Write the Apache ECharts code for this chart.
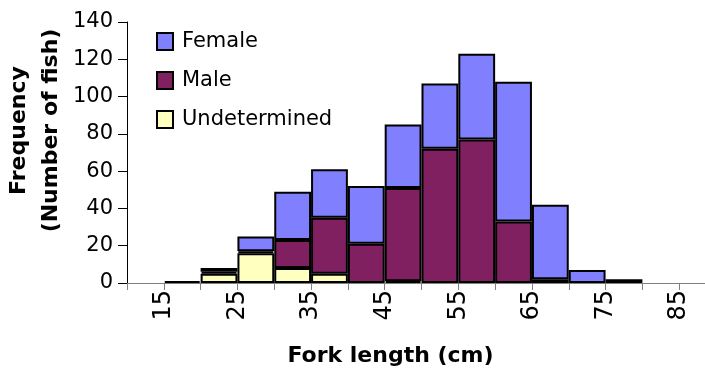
<!DOCTYPE html>
<html>
<head>
<meta charset="utf-8">
<script src="https://cdn.jsdelivr.net/npm/echarts@6/dist/echarts.min.js"></script>
<style>
  html, body { margin: 0; padding: 0; background: #fff; }
  #chart { width: 705px; height: 373px; }
</style>
</head>
<body>
<div id="chart"></div>
<script>
// bins of 5 cm, each labelled by its lower edge
const bins = ['10', '15', '20', '25', '30', '35', '40', '45', '50', '55', '60', '65', '70', '75', '80', '85'];
const undetermined = [null, null, 5, 16, 8, 5, null, 1, null, null, null, null, null, null, null, null];
const male = [null, null, 1, 1, 15, 30, 21, 50, 72, 77, 33, 2, null, null, null, null];
const female = [null, 1, 2, 8, 26, 26, 31, 34, 35, 46, 75, 40, 7, 2, null, null];
const xTickLabels = [15, 25, 35, 45, 55, 65, 75, 85];

const FONT = '"DejaVu Sans", Arial, sans-serif';
const chart = echarts.init(document.getElementById('chart'));

const barStyle = (color) => ({ color: color, borderColor: '#000', borderWidth: 2 });

chart.setOption({
  animation: false,
  backgroundColor: '#fff',
  textStyle: { fontFamily: FONT },
  grid: { left: 127, top: 22, bottom: 90, right: -11, containLabel: false, outerBoundsMode: 'none' },
  legend: {
    data: ['Female', 'Male', 'Undetermined'],
    orient: 'vertical',
    left: 151,
    top: 26,
    itemWidth: 16,
    itemHeight: 17,
    itemGap: 18,
    icon: 'rect',
    textStyle: { fontFamily: FONT, fontSize: 21, color: '#000', padding: [0, 0, 0, 4] }
  },
  xAxis: [{
    type: 'category',
    data: bins,
    boundaryGap: true,
    show: false
  }, {
    type: 'value',
    position: 'bottom',
    min: 10,
    max: 90,
    interval: 5,
    axisLine: { show: true, lineStyle: { color: '#808080', width: 1 } },
    axisTick: { show: true, length: 7, lineStyle: { color: '#808080' } },
    splitLine: { show: false },
    axisLabel: {
      rotate: 90,
      margin: 7,
      fontSize: 24,
      fontFamily: FONT,
      color: '#000',
      formatter: (v) => (xTickLabels.indexOf(v) >= 0 ? String(v) : '')
    },
    name: 'Fork length (cm)',
    nameLocation: 'middle',
    nameGap: 62,
    nameMoveOverlap: false,
    nameTextStyle: { fontFamily: FONT, fontSize: 22, fontWeight: 'bold', color: '#000', padding: [0, 62, 0, 0] }
  }],
  yAxis: {
    type: 'value',
    min: 0,
    max: 140,
    interval: 20,
    axisLine: { show: true, lineStyle: { color: '#000', width: 1 } },
    axisTick: { show: true, length: 9, lineStyle: { color: '#000' } },
    splitLine: { show: false },
    axisLabel: { fontSize: 21, fontFamily: FONT, color: '#000', margin: 14 },
    name: 'Frequency\n(Number of fish)',
    nameLocation: 'middle',
    nameGap: 60,
    nameMoveOverlap: false,
    nameRotate: 90,
    nameTextStyle: { fontFamily: FONT, fontSize: 22, fontWeight: 'bold', color: '#000', lineHeight: 32, padding: [0, 0, 0, 44] }
  },
  series: [{
    name: 'Undetermined',
    type: 'bar',
    stack: 'fish',
    xAxisIndex: 0,
    barCategoryGap: '0%',
    data: undetermined,
    itemStyle: barStyle('#ffffc0')
  }, {
    name: 'Male',
    type: 'bar',
    stack: 'fish',
    xAxisIndex: 0,
    barCategoryGap: '0%',
    data: male,
    itemStyle: barStyle('#802060')
  }, {
    name: 'Female',
    type: 'bar',
    stack: 'fish',
    xAxisIndex: 0,
    barCategoryGap: '0%',
    data: female,
    itemStyle: barStyle('#8080ff')
  }]
});
</script>
</body>
</html>
